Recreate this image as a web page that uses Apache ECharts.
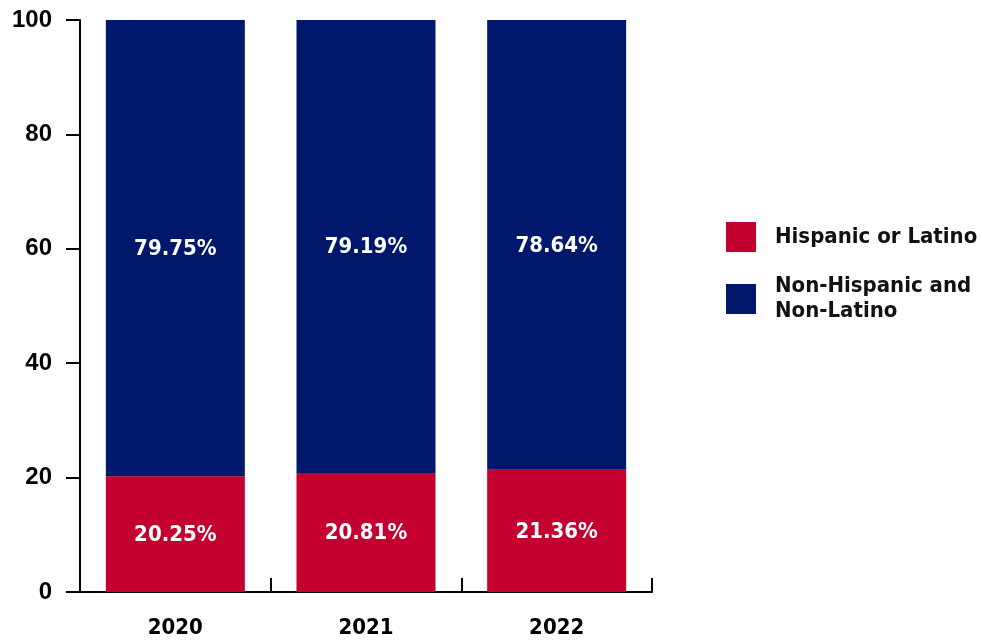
<!DOCTYPE html>
<html>
<head>
<meta charset="utf-8">
<script src="https://cdn.jsdelivr.net/npm/echarts@6/dist/echarts.min.js"></script>
<style>html,body{margin:0;padding:0;background:#fff}#c{width:982px;height:641px}</style>
</head>
<body>
<div id="c"></div>
<script>
const categories = ['2020', '2021', '2022'];
const hispanic = [20.25, 20.81, 21.36];
const nonHispanic = [79.75, 79.19, 78.64];
const seriesNames = ['Hispanic or Latino', 'Non-Hispanic and Non-Latino'];
const yTicks = [0, 20, 40, 60, 80, 100];

const chart = echarts.init(document.getElementById('c'));
const labelFont = 'DejaVu Sans Condensed, DejaVu Sans, sans-serif';
const dataLabel = {
  show: true, position: 'inside', color: '#fff', fontFamily: labelFont,
  fontWeight: 'bold', fontSize: 22, offset: [0, 1], formatter: p => p.value.toFixed(2) + '%'
};
chart.setOption({
  animation: false,
  grid: { left: 80, right: 330, top: 20, bottom: 49, containLabel: false },
  legend: {
    orient: 'vertical', left: 721, top: 217, itemWidth: 30, itemHeight: 30, itemGap: 22,
    icon: 'rect',
    data: seriesNames,
    formatter: n => n === seriesNames[1] ? 'Non-Hispanic and\nNon-Latino' : n,
    textStyle: { fontFamily: labelFont, fontWeight: 'bold', fontSize: 22, color: '#111', lineHeight: 25, padding: [0, 0, 0, 14] }
  },
  xAxis: {
    type: 'category', data: categories,
    axisLine: { lineStyle: { color: '#000', width: 2 } },
    axisTick: { show: true, inside: true, length: 14, lineStyle: { color: '#000', width: 2 } },
    axisLabel: { margin: 25, color: '#000', fontFamily: labelFont, fontWeight: 'bold', fontSize: 22 }
  },
  yAxis: {
    type: 'value', min: 0, max: 100, interval: 20,
    axisLine: { show: true, lineStyle: { color: '#000', width: 2 } },
    axisTick: { show: true, length: 14, lineStyle: { color: '#000', width: 2 } },
    splitLine: { show: false },
    axisLabel: { margin: 28, color: '#000', fontFamily: 'Liberation Sans, Arial, sans-serif', fontWeight: 'bold', fontSize: 24,
      formatter: v => yTicks.includes(v) ? String(v) : '' }
  },
  series: [
    { name: seriesNames[0], type: 'bar', stack: 'a', data: hispanic, barWidth: 139,
      itemStyle: { color: '#C40030' }, label: dataLabel },
    { name: seriesNames[1], type: 'bar', stack: 'a', data: nonHispanic, barWidth: 139,
      itemStyle: { color: '#00186C' }, label: dataLabel }
  ]
});
</script>
</body>
</html>
